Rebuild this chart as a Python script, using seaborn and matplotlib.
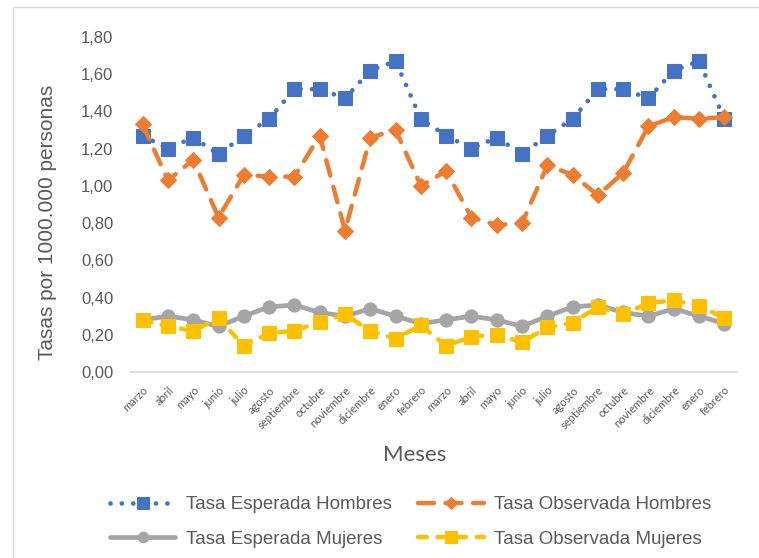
import matplotlib
matplotlib.use("Agg")
import matplotlib.pyplot as plt
import seaborn as sns
import numpy as np
from matplotlib.patches import Rectangle
from matplotlib.ticker import FuncFormatter

months = ["marzo", "abril", "mayo", "junio", "julio", "agosto", "septiembre",
          "octubre", "noviembre", "diciembre", "enero", "febrero",
          "marzo", "abril", "mayo", "junio", "julio", "agosto", "septiembre",
          "octubre", "noviembre", "diciembre", "enero", "febrero"]

esperada_hombres = [1.27, 1.20, 1.26, 1.17, 1.27, 1.36, 1.52, 1.52, 1.47, 1.62, 1.67, 1.36,
                    1.27, 1.20, 1.26, 1.17, 1.27, 1.36, 1.52, 1.52, 1.47, 1.62, 1.67, 1.36]
observada_hombres = [1.33, 1.03, 1.14, 0.83, 1.06, 1.05, 1.05, 1.27, 0.76, 1.26, 1.30, 1.00,
                     1.08, 0.83, 0.79, 0.80, 1.11, 1.06, 0.95, 1.07, 1.32, 1.37, 1.36, 1.37]
esperada_mujeres = [0.28, 0.30, 0.28, 0.245, 0.30, 0.35, 0.36, 0.32, 0.30, 0.34, 0.30, 0.26,
                    0.28, 0.30, 0.28, 0.245, 0.30, 0.35, 0.36, 0.32, 0.30, 0.34, 0.30, 0.26]
observada_mujeres = [0.28, 0.245, 0.22, 0.29, 0.14, 0.21, 0.22, 0.27, 0.31, 0.22, 0.18, 0.25,
                     0.14, 0.19, 0.20, 0.16, 0.24, 0.265, 0.35, 0.31, 0.37, 0.385, 0.355, 0.29]

series_names = ["Tasa Esperada Hombres", "Tasa Observada Hombres",
                "Tasa Esperada Mujeres", "Tasa Observada Mujeres"]
yticks = [0.0, 0.2, 0.4, 0.6, 0.8, 1.0, 1.2, 1.4, 1.6, 1.8]

sns.set_theme(style="white")
plt.rcParams["font.family"] = ["Liberation Sans", "DejaVu Sans"]
TXT = "#595959"

fig = plt.figure(figsize=(7.59, 5.58), dpi=100)
ax = fig.add_axes([130/759, 1-372/558, 607/759, (372-37)/558])

x = np.arange(len(months))

sns.lineplot(x=x, y=esperada_hombres, ax=ax, color="#4472C4", lw=3.4,
             linestyle=(0, (0.01, 2.4)), dash_capstyle="round",
             marker="s", markersize=10.5, markeredgecolor="#4472C4",
             markerfacecolor="#4472C4", label=series_names[0], zorder=3)
sns.lineplot(x=x, y=observada_hombres, ax=ax, color="#ED7D31", lw=3.2,
             linestyle=(0, (3.6, 2.6)), dash_capstyle="round",
             marker="D", markersize=8, markeredgecolor="#ED7D31",
             markerfacecolor="#ED7D31", label=series_names[1], zorder=4)
sns.lineplot(x=x, y=esperada_mujeres, ax=ax, color="#A5A5A5", lw=3.4,
             linestyle="-", marker="o", markersize=9.5, markeredgecolor="#A5A5A5",
             markerfacecolor="#A5A5A5", label=series_names[2], zorder=5)
sns.lineplot(x=x, y=observada_mujeres, ax=ax, color="#FFC000", lw=3.2,
             linestyle=(0, (2.0, 2.4)), dash_capstyle="round",
             marker="s", markersize=10, markeredgecolor="#FFC000",
             markerfacecolor="#FFC000", label=series_names[3], zorder=6)

ax.set_xlim(-0.5, len(months) - 0.5)
ax.set_ylim(0, 1.8)
ax.set_yticks(yticks)
ax.yaxis.set_major_formatter(FuncFormatter(lambda v, p: f"{v:.2f}".replace(".", ",")))
ax.set_xticks(x)
ax.set_xticklabels(months, rotation=45, ha="right", rotation_mode="anchor",
                   fontsize=8, color=TXT, family=["Lato", "DejaVu Sans"])
ax.tick_params(axis="x", length=0, pad=9)
ax.tick_params(axis="y", length=0, pad=12, labelsize=12, labelcolor=TXT)

for s in ["top", "right", "left"]:
    ax.spines[s].set_visible(False)
ax.spines["bottom"].set_color("#D9D9D9")
ax.spines["bottom"].set_linewidth(1.2)
ax.grid(False)

ax.set_ylabel("Tasas por 1000.000 personas", fontsize=15, color=TXT)
ax.yaxis.set_label_coords((57-130)/607, (372-222)/335)
ax.set_xlabel("")
fig.text(415/759, 1-455/558, "Meses", ha="center", va="center", fontsize=16,
         color=TXT, family=["Lato", "DejaVu Sans"])

ax.get_legend().remove()
handles, labels = ax.get_legend_handles_labels()
order = [0, 2, 1, 3]
leg = fig.legend([handles[i] for i in order], [labels[i] for i in order],
                 loc="center", bbox_to_anchor=(410.5/759, 1-522/558),
                 ncol=2, frameon=False, fontsize=13.5, labelcolor=TXT,
                 handlelength=3.5, handletextpad=0.55, columnspacing=1.4,
                 labelspacing=0.95, numpoints=1, markerscale=0.8,
                 borderpad=0, borderaxespad=0)

fig.patches.append(Rectangle((13/759, -0.1), 1.0, 1 - 7/558 + 0.1,
                             transform=fig.transFigure, fill=False,
                             edgecolor="#D9D9D9", lw=1.0))

fig.savefig("out.png", dpi=100)
